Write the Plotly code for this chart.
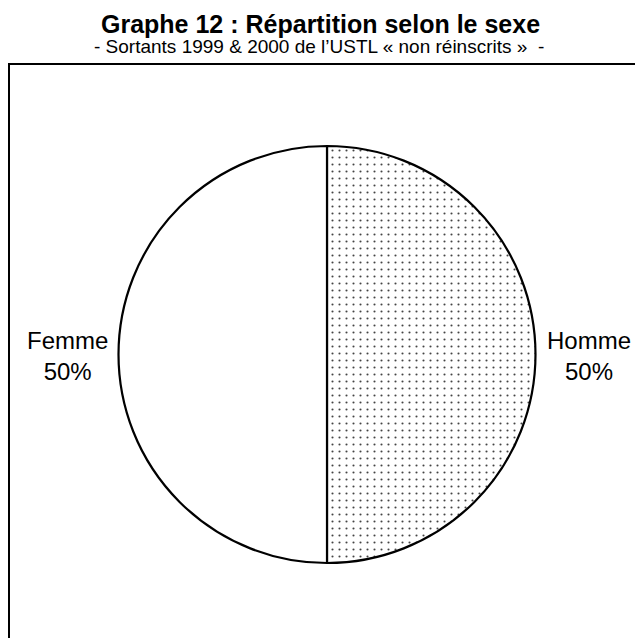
import plotly.graph_objects as go

labels = ["Homme", "Femme"]
values = [50, 50]
patterns = [".", ""]

title_text = "Graphe 12 : Répartition selon le sexe"
subtitle_text = "- Sortants 1999 & 2000 de l’USTL « non réinscrits »  -"

W, H = 635, 638
FONT = "Liberation Sans, Arial, sans-serif"

def px(x):
    return x / W

def py(y):
    return (H - y) / H

fig = go.Figure(go.Pie(
    labels=labels,
    values=values,
    sort=False,
    direction="clockwise",
    rotation=0,
    textinfo="none",
    marker=dict(
        colors=["white", "white"],
        line=dict(color="black", width=2.2),
        pattern=dict(shape=patterns, fgcolor="#444444", bgcolor="white", size=7, solidity=0.07),
    ),
    domain=dict(x=[px(118.5), px(535.5)], y=[py(563), py(146)]),
    automargin=False,
    showlegend=False,
    hoverinfo="label+percent",
))

total = sum(values)
label_x = {"Homme": 589, "Femme": 67.5}
annotations = [
    dict(text=f"<b>{title_text}</b>", x=px(320), y=py(24),
         xref="paper", yref="paper", showarrow=False, xanchor="center", yanchor="middle",
         font=dict(family=FONT, size=25, color="black")),
    dict(text=subtitle_text, x=px(319), y=py(46),
         xref="paper", yref="paper", showarrow=False, xanchor="center", yanchor="middle",
         font=dict(family=FONT, size=19, color="black")),
]
for lab, val in zip(labels, values):
    annotations.append(dict(
        text=f"{lab}<br>{round(100 * val / total)}%", x=px(label_x[lab]), y=py(356),
        xref="paper", yref="paper", showarrow=False, xanchor="center", yanchor="middle",
        align="center", font=dict(family=FONT, size=24, color="black")))

fig.update_layout(
    width=W, height=H,
    margin=dict(l=0, r=0, t=0, b=0),
    paper_bgcolor="white",
    plot_bgcolor="white",
    shapes=[dict(type="rect", xref="paper", yref="paper",
                 x0=px(9), x1=1.05, y0=-0.05, y1=py(64),
                 line=dict(color="black", width=2), fillcolor="rgba(0,0,0,0)")],
    annotations=annotations,
)

fig.write_html("out.html", config={"displayModeBar": False},
               post_script="document.body.style.margin='0';")
